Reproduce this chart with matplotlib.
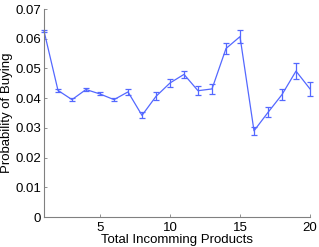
import numpy as np
import matplotlib
matplotlib.use("Agg")
import matplotlib.pyplot as plt

plt.rcParams['font.family'] = ['Liberation Sans', 'DejaVu Sans']

#==================================================================
products = list(range(1, 21))
prob = [0.0626, 0.0426, 0.0395, 0.0429, 0.0414, 0.0395, 0.0421, 0.0342, 0.0406, 0.0451,
        0.0480, 0.0425, 0.0431, 0.0567, 0.0607, 0.0290, 0.0352, 0.0412, 0.0491, 0.0431]
err = [0.0005, 0.0004, 0.0005, 0.0005, 0.0005, 0.0006, 0.0009, 0.0010, 0.0013, 0.0012,
       0.0012, 0.0016, 0.0016, 0.0018, 0.0023, 0.0013, 0.0017, 0.0019, 0.0027, 0.0023]
yticks = [0, 0.01, 0.02, 0.03, 0.04, 0.05, 0.06, 0.07]
ytick_labels = ['0', '0.01', '0.02', '0.03', '0.04', '0.05', '0.06', '0.07']
xticks = [5, 10, 15, 20]

#==================================================================
fig = plt.figure(figsize=(3.19, 2.47), dpi=100)
ax = fig.add_axes([44/319, 30/247, 266/319, 208/247])

ax.errorbar(products, prob, yerr=err, color='#5468ff', lw=0.9, elinewidth=0.9,
            capsize=2.5, capthick=0.9, clip_on=False)

ax.set_xlim(1, 20)
ax.set_ylim(0, 0.07)
ax.set_xticks(xticks)
ax.set_xticklabels([str(t) for t in xticks])
ax.set_yticks(yticks)
ax.set_yticklabels(ytick_labels)

for s in ['top', 'right']:
    ax.spines[s].set_visible(False)
for s in ['left', 'bottom']:
    ax.spines[s].set_color('#808080')
    ax.spines[s].set_linewidth(0.8)
ax.tick_params(direction='in', length=2.5, width=0.6, color='#808080',
               labelsize=9.5, pad=2)
ax.tick_params(axis='x', pad=3.5)

ax.set_xlabel('Total Incomming Products', fontsize=9.5, labelpad=0.3)
ax.set_ylabel('Probability of Buying', fontsize=9.5, labelpad=2)

fig.savefig('out.png', dpi=100)
